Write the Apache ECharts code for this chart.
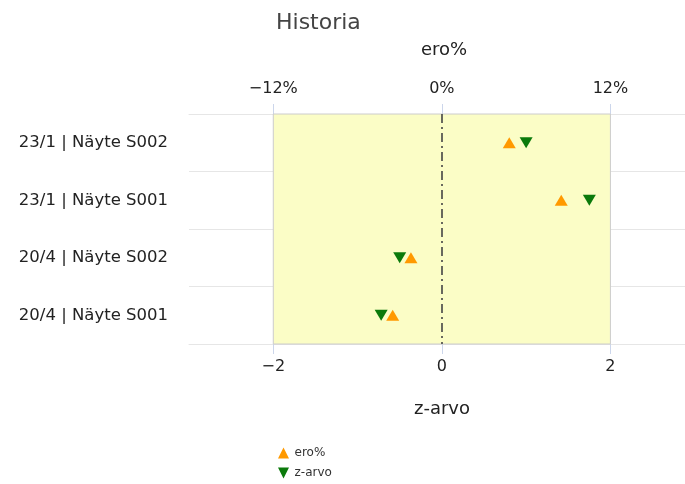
<!DOCTYPE html>
<html><head><meta charset="utf-8">
<script src="https://cdn.jsdelivr.net/npm/echarts@6/dist/echarts.min.js"></script>
<style>html,body{margin:0;padding:0;background:#fff}#c{width:685px;height:484px}</style>
</head><body><div id="c"></div>
<script>
const categories = ['23/1 | Näyte S002', '23/1 | Näyte S001', '20/4 | Näyte S002', '20/4 | Näyte S001'];
const eroValues = [4.8, 8.5, -2.2, -3.5];
const zValues = [1.0, 1.75, -0.5, -0.72];
const eroTicks = [-12, 0, 12];
const zTicks = [-2, 0, 2];
const bandRange = [-2, 2];

const FONT = 'DejaVu Sans';
const UP = 'path://M5,0 L10,10 L0,10 Z';
const DOWN = 'path://M0,0 L10,0 L5,10 Z';

const chart = echarts.init(document.getElementById('c'), null, {renderer: 'canvas'});
chart.setOption({
  animation: false,
  textStyle: {fontFamily: FONT},
  title: {text: 'Historia', left: 271, top: 7, textStyle: {fontFamily: FONT, fontSize: 22, fontWeight: 'normal', color: '#444'}},
  legend: {
    orient: 'vertical', left: 273, top: 442, itemWidth: 12, itemHeight: 11, itemGap: 8,
    textStyle: {fontFamily: FONT, fontSize: 12, color: '#333'},
    data: [{name: 'ero%', icon: UP}, {name: 'z-arvo', icon: DOWN}]
  },
  grid: {left: 189, top: 114, right: 0, height: 230, containLabel: false},
  xAxis: [
    {type: 'value', position: 'top', min: -18, max: 17.31, name: 'ero%', nameLocation: 'middle', nameGap: 55,
     nameTextStyle: {fontFamily: FONT, fontSize: 18, color: '#222', padding: [0, 0, 0, 14]},
     axisLine: {show: true, onZero: false, lineStyle: {color: '#e6e6e6'}},
     axisTick: {show: true, customValues: eroTicks, length: 10, lineStyle: {color: '#ccd6eb'}},
     axisLabel: {customValues: eroTicks, formatter: v => (v < 0 ? '\u2212' + Math.abs(v) : v) + '%', fontFamily: FONT, fontSize: 16, color: '#222', margin: 17},
     splitLine: {show: false}},
    {type: 'value', position: 'bottom', min: -3, max: 2.885, name: 'z-arvo', nameLocation: 'middle', nameGap: 56,
     nameTextStyle: {fontFamily: FONT, fontSize: 18, color: '#222', padding: [0, 0, 0, 10]},
     axisLine: {show: true, onZero: false, lineStyle: {color: '#e6e6e6'}},
     axisTick: {show: true, customValues: zTicks, length: 10, lineStyle: {color: '#ccd6eb'}},
     axisLabel: {customValues: zTicks, formatter: v => (v < 0 ? '\u2212' + Math.abs(v) : '' + v), fontFamily: FONT, fontSize: 16, color: '#222', margin: 15},
     splitLine: {show: false}}
  ],
  yAxis: {
    type: 'category', data: categories, inverse: true,
    axisLine: {show: false}, axisTick: {show: false},
    axisLabel: {fontFamily: FONT, fontSize: 16.5, color: '#222', margin: 21},
    splitLine: {show: true, lineStyle: {color: '#e6e6e6', width: 1}}
  },
  series: [
    {name: 'ero%', type: 'scatter', xAxisIndex: 0, data: eroValues.map((v, i) => [v, categories[i]]),
     symbol: UP, symbolSize: [13, 11], itemStyle: {color: '#ff9900', opacity: 1}, z: 3},
    {name: 'z-arvo', type: 'scatter', xAxisIndex: 1, data: zValues.map((v, i) => [v, categories[i]]),
     symbol: DOWN, symbolSize: [13, 11], itemStyle: {color: '#0b7a0b', opacity: 1}, z: 3,
     markArea: {silent: true, itemStyle: {color: '#fbfdc6', opacity: 1, borderColor: '#cccccc', borderWidth: 1},
       data: [[{xAxis: bandRange[0]}, {xAxis: bandRange[1]}]], z: 1},
     markLine: {silent: true, symbol: 'none', label: {show: false},
       lineStyle: {color: '#444', type: [9, 4, 2, 4], width: 1.6},
       data: [{xAxis: 0}]}}
  ]
});
</script></body></html>
